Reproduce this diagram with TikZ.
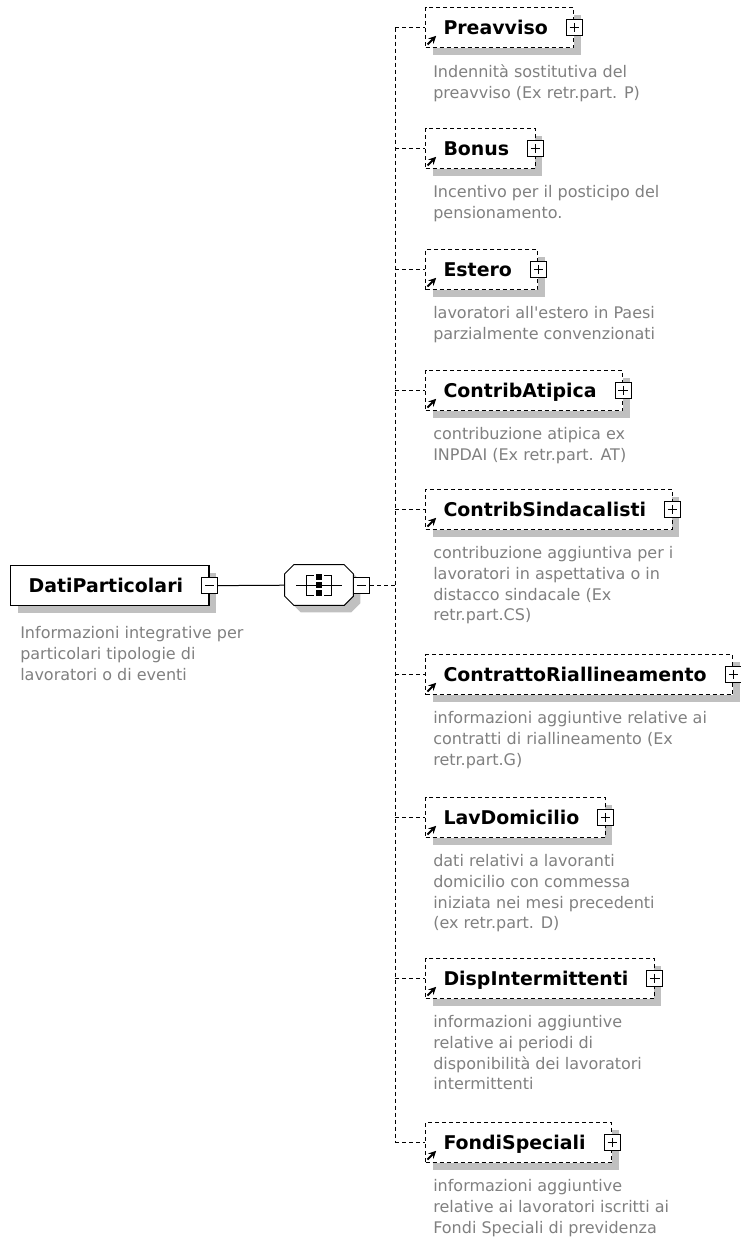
\documentclass[tikz,border=0pt]{standalone}
\usepackage{fontspec}
\setmainfont{DejaVu Sans}
\usetikzlibrary{shadows,positioning}

\definecolor{shadowgray}{RGB}{192,192,192}
\definecolor{descgray}{RGB}{128,128,128}

\begin{document}
\begin{tikzpicture}[
    x=0.75pt, y=-0.75pt,
    boxshadow/.style={drop shadow={shadow xshift=5.25pt, shadow yshift=-5.25pt, opacity=1, fill=shadowgray}},
    element/.style={draw, fill=white, minimum height=30pt, inner xsep=13.5pt, inner ysep=0pt,
        text height=10.4pt, text depth=0pt, font=\fontsize{14.2}{17}\selectfont\bfseries,
        execute at end node={\hspace{6pt}}, boxshadow},
    rootbox/.style={element, line width=1pt},
    childbox/.style={element, line width=0.75pt, dash pattern=on 3pt off 2.25pt,
        path picture={\draw[solid, line width=1.5pt, ->, >=stealth]
            ([shift={(1.5pt,2.25pt)}]path picture bounding box.south west) -- ++(6.5pt,6.5pt);}},
    plusbox/.style={draw, solid, fill=white, minimum size=12pt, inner sep=0pt, line width=0.75pt,
        path picture={\draw ([xshift=2.5pt]path picture bounding box.west) -- ([xshift=-2.5pt]path picture bounding box.east)
            ([yshift=-2.5pt]path picture bounding box.north) -- ([yshift=2.5pt]path picture bounding box.south);}},
    minusbox/.style={draw, solid, fill=white, minimum size=12pt, inner sep=0pt, line width=0.75pt,
        path picture={\draw ([xshift=2.5pt]path picture bounding box.west) -- ([xshift=-2.5pt]path picture bounding box.east);}},
    seqbox/.style={minimum width=51pt, minimum height=30pt, inner sep=0pt},
    desc/.style={align=left, inner sep=0pt, text=descgray, font=\fontsize{12}{15.5}\selectfont},
    link/.style={line width=0.75pt, dash pattern=on 3pt off 2.25pt}
]
\useasboundingbox (0,0) rectangle (741,1239);

% root element and sequence
\node[rootbox, anchor=north west] (root) at (10,565) {DatiParticolari};
\node[minusbox] (root-m) at (root.east) {};
\node[desc, below=15pt of root.south west, anchor=north west, xshift=7.5pt] (root-d) {Informazioni integrative per\\particolari tipologie di\\lavoratori o di eventi};

\node[seqbox] (seq) at (319,585) {};
\draw[line width=0.75pt, fill=white, boxshadow]
    ([xshift=6.75pt]seq.north west) -- ([xshift=-6.75pt]seq.north east) -- ([yshift=-6.75pt]seq.north east)
    -- ([yshift=6.75pt]seq.south east) -- ([xshift=-6.75pt]seq.south east) -- ([xshift=6.75pt]seq.south west)
    -- ([yshift=6.75pt]seq.south west) -- ([yshift=-6.75pt]seq.north west) -- cycle;
\begin{scope}[shift={(seq.center)}, x=1pt, y=1pt, line width=0.75pt]
    \draw (-17,0) -- (17,0);
    \draw (-4,7.5) -- (-9.5,7.5) -- (-9.5,-7.5) -- (-4,-7.5);
    \draw (4,7.5) -- (9.5,7.5) -- (9.5,-7.5) -- (4,-7.5);
    \fill[black] (-1.9,4.1) rectangle (1.9,7.9);
    \fill[black] (-1.9,-1.9) rectangle (1.9,1.9);
    \fill[black] (-1.9,-7.9) rectangle (1.9,-4.1);
\end{scope}
\node[minusbox, right=0pt of seq] (seq-m) {};
\coordinate (bus) at (395,585);

% children
\node[childbox, anchor=north west] (pre) at (425,7) {Preavviso};
\node[childbox, anchor=north west] (bon) at (425,128) {Bonus};
\node[childbox, anchor=north west] (est) at (425,249) {Estero};
\node[childbox, anchor=north west] (ati) at (425,370) {ContribAtipica};
\node[childbox, anchor=north west] (sin) at (425,489) {ContribSindacalisti};
\node[childbox, anchor=north west] (ria) at (425,654) {ContrattoRiallineamento};
\node[childbox, anchor=north west] (dom) at (425,797) {LavDomicilio};
\node[childbox, anchor=north west] (int) at (425,958) {DispIntermittenti};
\node[childbox, anchor=north west] (fon) at (425,1122) {FondiSpeciali};

\node[plusbox] (pre-p) at (pre.east) {};
\node[plusbox] (bon-p) at (bon.east) {};
\node[plusbox] (est-p) at (est.east) {};
\node[plusbox] (ati-p) at (ati.east) {};
\node[plusbox] (sin-p) at (sin.east) {};
\node[plusbox] (ria-p) at (ria.east) {};
\node[plusbox] (dom-p) at (dom.east) {};
\node[plusbox] (int-p) at (int.east) {};
\node[plusbox] (fon-p) at (fon.east) {};

% annotations
\node[desc, below=12.4pt of pre.south west, anchor=north west, xshift=6pt] (pre-d) {Indennità sostitutiva del\\preavviso (Ex retr.part. P)};
\node[desc, below=12.4pt of bon.south west, anchor=north west, xshift=6pt] (bon-d) {Incentivo per il posticipo del\\pensionamento.};
\node[desc, below=12.4pt of est.south west, anchor=north west, xshift=6pt] (est-d) {lavoratori all\textquotesingle estero in Paesi\\parzialmente convenzionati};
\node[desc, below=12.4pt of ati.south west, anchor=north west, xshift=6pt] (ati-d) {contribuzione atipica ex\\INPDAI (Ex retr.part. AT)};
\node[desc, below=12.4pt of sin.south west, anchor=north west, xshift=6pt] (sin-d) {contribuzione aggiuntiva per i\\lavoratori in aspettativa o in\\distacco sindacale (Ex\\retr.part.CS)};
\node[desc, below=12.4pt of ria.south west, anchor=north west, xshift=6pt] (ria-d) {informazioni aggiuntive relative ai\\contratti di riallineamento (Ex\\retr.part.G)};
\node[desc, below=12.4pt of dom.south west, anchor=north west, xshift=6pt] (dom-d) {dati relativi a lavoranti\\domicilio con commessa\\iniziata nei mesi precedenti\\(ex retr.part. D)};
\node[desc, below=12.4pt of int.south west, anchor=north west, xshift=6pt] (int-d) {informazioni aggiuntive\\relative ai periodi di\\disponibilità dei lavoratori\\intermittenti};
\node[desc, below=12.4pt of fon.south west, anchor=north west, xshift=6pt] (fon-d) {informazioni aggiuntive\\relative ai lavoratori iscritti ai\\Fondi Speciali di previdenza};

% connectors
\draw[line width=0.75pt] (root-m) -- (seq);
\draw[link] (seq-m) -- (bus);
\draw[link] (bus |- pre) -- (bus |- fon);
\draw[link] (bus |- pre) -- (pre);
\draw[link] (bus |- bon) -- (bon);
\draw[link] (bus |- est) -- (est);
\draw[link] (bus |- ati) -- (ati);
\draw[link] (bus |- sin) -- (sin);
\draw[link] (bus |- ria) -- (ria);
\draw[link] (bus |- dom) -- (dom);
\draw[link] (bus |- int) -- (int);
\draw[link] (bus |- fon) -- (fon);

\end{tikzpicture}
\end{document}
